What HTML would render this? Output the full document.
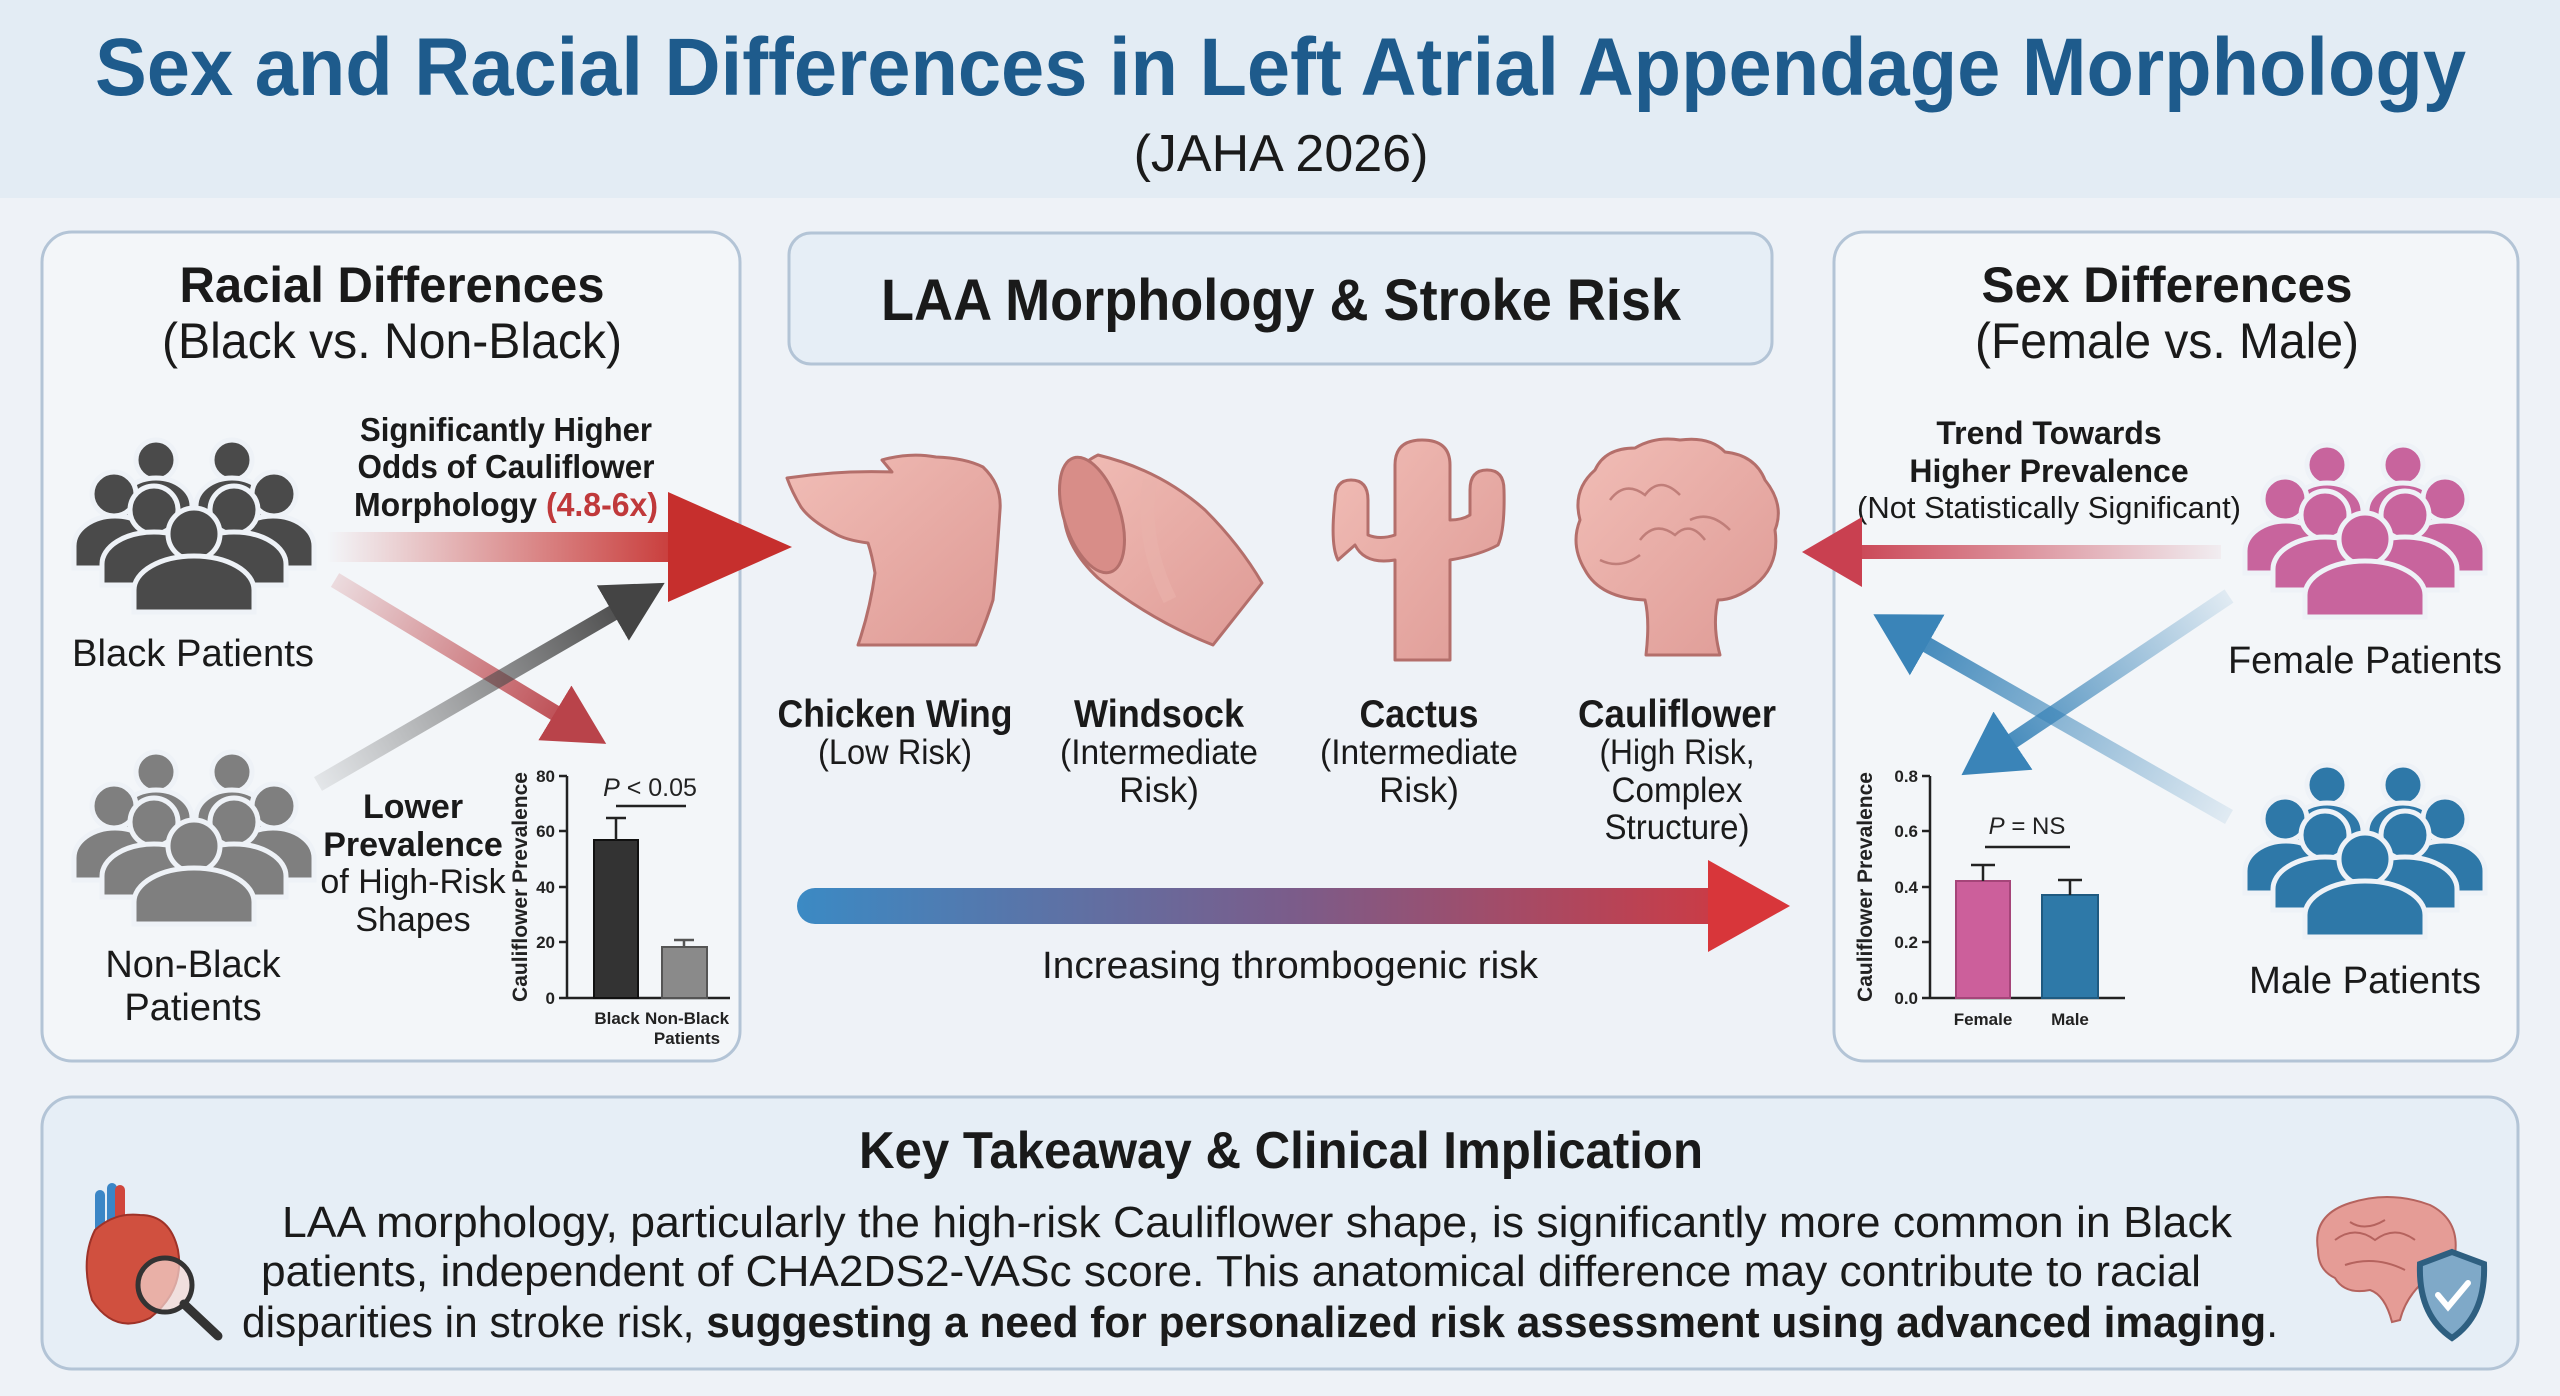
<!DOCTYPE html>
<html><head><meta charset="utf-8"><style>
html,body{margin:0;padding:0;background:#eef2f7;}
svg{display:block;font-family:"Liberation Sans",Arial,sans-serif;}
</style></head><body>
<svg width="2560" height="1396" viewBox="0 0 2560 1396" xmlns="http://www.w3.org/2000/svg">
<defs>
<linearGradient id="redMain" x1="327" y1="0" x2="700" y2="0" gradientUnits="userSpaceOnUse"><stop offset="0" stop-color="#c62f2d" stop-opacity="0"/><stop offset="1" stop-color="#c62f2d"/></linearGradient>
<linearGradient id="redDiag" x1="335" y1="580" x2="580" y2="728" gradientUnits="userSpaceOnUse"><stop offset="0" stop-color="#c04448" stop-opacity="0.15"/><stop offset="1" stop-color="#b9434a"/></linearGradient>
<linearGradient id="darkDiag" x1="318" y1="784" x2="640" y2="598" gradientUnits="userSpaceOnUse"><stop offset="0" stop-color="#555" stop-opacity="0.1"/><stop offset="1" stop-color="#444"/></linearGradient>
<linearGradient id="redR" x1="2221" y1="0" x2="1840" y2="0" gradientUnits="userSpaceOnUse"><stop offset="0" stop-color="#c94050" stop-opacity="0.05"/><stop offset="1" stop-color="#c94050"/></linearGradient>
<linearGradient id="blue1" x1="2229" y1="596" x2="1990" y2="756" gradientUnits="userSpaceOnUse"><stop offset="0" stop-color="#3a84b8" stop-opacity="0.1"/><stop offset="1" stop-color="#3a84b8"/></linearGradient>
<linearGradient id="blue2" x1="2229" y1="817" x2="1900" y2="629" gradientUnits="userSpaceOnUse"><stop offset="0" stop-color="#3a84b8" stop-opacity="0.1"/><stop offset="1" stop-color="#3a84b8"/></linearGradient>
<linearGradient id="risk" x1="797" y1="0" x2="1790" y2="0" gradientUnits="userSpaceOnUse"><stop offset="0" stop-color="#3b8ac4"/><stop offset="0.5" stop-color="#7b5c8a"/><stop offset="1" stop-color="#d8363a"/></linearGradient>
<linearGradient id="flesh" x1="0" y1="0" x2="1" y2="1"><stop offset="0" stop-color="#f1bdb6"/><stop offset="1" stop-color="#de9a95"/></linearGradient>
<marker id="mRed" markerUnits="userSpaceOnUse" markerWidth="60" markerHeight="64" refX="6" refY="32" orient="auto"><path d="M0,0 L60,32 L0,64 z" fill="#b9434a"/></marker>
<marker id="mDark" markerUnits="userSpaceOnUse" markerWidth="60" markerHeight="64" refX="6" refY="32" orient="auto"><path d="M0,0 L60,32 L0,64 z" fill="#444"/></marker>
<marker id="mRedR" markerUnits="userSpaceOnUse" markerWidth="60" markerHeight="70" refX="6" refY="35" orient="auto"><path d="M0,0 L60,35 L0,70 z" fill="#c94050"/></marker>
<marker id="mBlue" markerUnits="userSpaceOnUse" markerWidth="62" markerHeight="70" refX="6" refY="35" orient="auto"><path d="M0,0 L62,35 L0,70 z" fill="#3a84b8"/></marker>
<g id="people" stroke="#eef2f7" stroke-width="5">
  <circle cx="82" cy="20" r="20"/><circle cx="158" cy="20" r="20"/>
  <path d="M46,98 V66 A36,28 0 0 1 118,66 V98 Z"/><path d="M122,98 V66 A36,28 0 0 1 194,66 V98 Z"/>
  <circle cx="40" cy="54" r="22"/><circle cx="200" cy="54" r="22"/>
  <path d="M0,128 V106 A41,30 0 0 1 82,106 V128 Z"/><path d="M158,128 V106 A41,30 0 0 1 240,106 V128 Z"/>
  <circle cx="80" cy="70" r="24"/><circle cx="160" cy="70" r="24"/>
  <path d="M28,145 V124 A52,32 0 0 1 132,124 V145 Z"/><path d="M108,145 V124 A52,32 0 0 1 212,124 V145 Z"/>
  <circle cx="120" cy="94" r="26"/>
  <path d="M60,172 V150 A60,34 0 0 1 180,150 V172 Z"/>
</g>
</defs>

<rect width="2560" height="1396" fill="#eef2f7"/>
<rect width="2560" height="198" fill="#e3ecf4"/>
<text x="95" y="95" font-size="82" font-weight="bold" fill="#1e5b8c" textLength="2371" lengthAdjust="spacingAndGlyphs">Sex and Racial Differences in Left Atrial Appendage Morphology</text>
<text x="1281" y="171" font-size="52" fill="#1a1a1a" text-anchor="middle">(JAHA 2026)</text>

<rect x="42" y="232" width="698" height="829" rx="30" fill="#f3f6f9" stroke="#b3c4d6" stroke-width="3"/>
<rect x="1834" y="232" width="684" height="829" rx="30" fill="#f3f6f9" stroke="#b3c4d6" stroke-width="3"/>
<rect x="789" y="233" width="983" height="131" rx="22" fill="#e6eef6" stroke="#b3c4d6" stroke-width="3"/>
<rect x="42" y="1097" width="2476" height="272" rx="30" fill="#e6eef6" stroke="#b3c4d6" stroke-width="3"/>

<text x="392" y="302" font-size="50" font-weight="bold" fill="#1a1a1a" text-anchor="middle" textLength="425" lengthAdjust="spacingAndGlyphs">Racial Differences</text>
<text x="392" y="358" font-size="50" fill="#1a1a1a" text-anchor="middle" textLength="460" lengthAdjust="spacingAndGlyphs">(Black vs. Non-Black)</text>
<use href="#people" x="74" y="440" fill="#4a4a4a"/>
<text x="193" y="666" font-size="38" fill="#1a1a1a" text-anchor="middle" textLength="242" lengthAdjust="spacingAndGlyphs">Black Patients</text>
<use href="#people" x="74" y="752" fill="#7f7f7f"/>
<text x="193" y="977" font-size="38" fill="#1a1a1a" text-anchor="middle">Non-Black</text>
<text x="193" y="1020" font-size="38" fill="#1a1a1a" text-anchor="middle">Patients</text>

<rect x="327" y="532" width="355" height="30" fill="url(#redMain)"/>
<path d="M668,492 L792,547 L668,602 Z" fill="#c62f2d"/>
<text x="506" y="441" font-size="33" font-weight="bold" fill="#1a1a1a" text-anchor="middle" textLength="292" lengthAdjust="spacingAndGlyphs">Significantly Higher</text>
<text x="506" y="478" font-size="33" font-weight="bold" fill="#1a1a1a" text-anchor="middle" textLength="297" lengthAdjust="spacingAndGlyphs">Odds of Cauliflower</text>
<text x="506" y="516" font-size="33" font-weight="bold" fill="#1a1a1a" text-anchor="middle" textLength="304" lengthAdjust="spacingAndGlyphs">Morphology <tspan fill="#c0393b">(4.8-6x)</tspan></text>

<line x1="335" y1="580" x2="560" y2="716" stroke="url(#redDiag)" stroke-width="16" marker-end="url(#mRed)"/>
<line x1="318" y1="784" x2="618" y2="610" stroke="url(#darkDiag)" stroke-width="16" marker-end="url(#mDark)"/>

<text x="413" y="818" font-size="34" font-weight="bold" fill="#1a1a1a" text-anchor="middle">Lower</text>
<text x="413" y="856" font-size="34" font-weight="bold" fill="#1a1a1a" text-anchor="middle">Prevalence</text>
<text x="413" y="893" font-size="34" fill="#1a1a1a" text-anchor="middle">of High-Risk</text>
<text x="413" y="931" font-size="34" fill="#1a1a1a" text-anchor="middle">Shapes</text>

<g font-size="17" font-weight="bold" fill="#222">
<line x1="567" y1="776" x2="567" y2="998" stroke="#222" stroke-width="2.5"/>
<line x1="567" y1="998" x2="730" y2="998" stroke="#222" stroke-width="2.5"/>
<g stroke="#222" stroke-width="2.5"><line x1="559" y1="776" x2="567" y2="776"/><line x1="559" y1="831" x2="567" y2="831"/><line x1="559" y1="887" x2="567" y2="887"/><line x1="559" y1="942" x2="567" y2="942"/><line x1="559" y1="998" x2="567" y2="998"/></g>
<text x="555" y="782" text-anchor="end">80</text><text x="555" y="837" text-anchor="end">60</text><text x="555" y="893" text-anchor="end">40</text><text x="555" y="948" text-anchor="end">20</text><text x="555" y="1004" text-anchor="end">0</text>
<text transform="translate(527,887) rotate(-90)" text-anchor="middle" font-size="21">Cauliflower Prevalence</text>
<rect x="594" y="840" width="44" height="158" fill="#333" stroke="#111" stroke-width="2"/>
<path d="M616,840 V818 M606,818 H626" stroke="#222" stroke-width="2.5"/>
<rect x="662" y="947" width="45" height="51" fill="#8a8a8a" stroke="#555" stroke-width="2"/>
<path d="M684,947 V940 M674,940 H694" stroke="#555" stroke-width="2.5"/>
<line x1="616" y1="806" x2="686" y2="806" stroke="#222" stroke-width="2.5"/>
<text x="650" y="796" text-anchor="middle" font-size="25" font-weight="normal"><tspan font-style="italic">P</tspan> &lt; 0.05</text>
<text x="617" y="1024" text-anchor="middle">Black</text>
<text x="687" y="1024" text-anchor="middle">Non-Black</text>
<text x="687" y="1044" text-anchor="middle">Patients</text>
</g>

<text x="1281" y="320" font-size="58" font-weight="bold" fill="#1a1a1a" text-anchor="middle" textLength="800" lengthAdjust="spacingAndGlyphs">LAA Morphology &amp; Stroke Risk</text>

<g fill="url(#flesh)" stroke="#b46f6b" stroke-width="3" stroke-linejoin="round">
<path d="M787,478 Q840,470 892,472 L882,460 Q910,452 936,457 Q965,458 983,467 Q1002,485 1000,510 Q996,570 993,600 Q985,625 976,645 L858,645 Q870,610 875,573 Q872,555 868,543 Q845,540 834,533 Q810,520 801,507 Q792,492 787,478 Z"/>
<path d="M1098,455 Q1160,470 1205,510 Q1240,545 1262,583 L1213,645 Q1150,620 1098,578 Q1066,548 1064,515 Q1066,470 1098,455 Z"/>
<ellipse cx="1092" cy="515" rx="28" ry="60" transform="rotate(-18 1092 515)" fill="#d88d88"/>
<path d="M1150,480 Q1140,540 1170,600" fill="none" stroke="#e9b2ac" stroke-width="14" opacity="0.6"/>
<path d="M1395,660 V560 Q1365,565 1355,545 L1338,560 Q1330,545 1335,500 Q1335,480 1351,480 Q1368,480 1368,500 V535 Q1380,540 1395,535 V465 Q1395,440 1422,440 Q1450,440 1450,465 V520 Q1462,520 1470,515 V490 Q1470,470 1487,470 Q1504,470 1504,490 Q1505,530 1498,545 Q1480,555 1450,560 V660 Z"/>
<path d="M1646,655 Q1650,620 1645,600 Q1600,598 1585,570 Q1570,545 1580,520 Q1572,490 1595,470 Q1605,448 1635,448 Q1655,436 1680,440 Q1710,436 1725,452 Q1755,455 1765,480 Q1785,505 1775,530 Q1780,565 1755,585 Q1735,600 1718,600 Q1712,625 1720,655 Z"/>
</g>
<g fill="none" stroke="#c07e79" stroke-width="2.5">
<path d="M1610,500 q15,-20 35,-5 q15,-20 35,0"/><path d="M1640,540 q15,-20 35,-5 q15,-15 30,5"/><path d="M1600,560 q20,10 40,-5"/><path d="M1690,520 q20,-10 40,10"/>
</g>

<g fill="#1a1a1a" text-anchor="middle">
<text x="895" y="727" font-size="39" font-weight="bold" textLength="235" lengthAdjust="spacingAndGlyphs">Chicken Wing</text>
<text x="895" y="764" font-size="35" textLength="154" lengthAdjust="spacingAndGlyphs">(Low Risk)</text>
<text x="1159" y="727" font-size="39" font-weight="bold" textLength="170" lengthAdjust="spacingAndGlyphs">Windsock</text>
<text x="1159" y="764" font-size="35" textLength="198" lengthAdjust="spacingAndGlyphs">(Intermediate</text>
<text x="1159" y="802" font-size="35">Risk)</text>
<text x="1419" y="727" font-size="39" font-weight="bold" textLength="119" lengthAdjust="spacingAndGlyphs">Cactus</text>
<text x="1419" y="764" font-size="35" textLength="198" lengthAdjust="spacingAndGlyphs">(Intermediate</text>
<text x="1419" y="802" font-size="35">Risk)</text>
<text x="1677" y="727" font-size="39" font-weight="bold" textLength="198" lengthAdjust="spacingAndGlyphs">Cauliflower</text>
<text x="1677" y="764" font-size="35" textLength="155" lengthAdjust="spacingAndGlyphs">(High Risk,</text>
<text x="1677" y="802" font-size="35" textLength="131" lengthAdjust="spacingAndGlyphs">Complex</text>
<text x="1677" y="839" font-size="35" textLength="145" lengthAdjust="spacingAndGlyphs">Structure)</text>
</g>

<rect x="797" y="888" width="930" height="36" rx="18" fill="url(#risk)"/>
<path d="M1708,860 L1790,906 L1708,952 Z" fill="#d8363a"/>
<text x="1290" y="978" font-size="38" fill="#1a1a1a" text-anchor="middle" textLength="496" lengthAdjust="spacingAndGlyphs">Increasing thrombogenic risk</text>

<text x="2167" y="302" font-size="50" font-weight="bold" fill="#1a1a1a" text-anchor="middle" textLength="371" lengthAdjust="spacingAndGlyphs">Sex Differences</text>
<text x="2167" y="358" font-size="50" fill="#1a1a1a" text-anchor="middle" textLength="384" lengthAdjust="spacingAndGlyphs">(Female vs. Male)</text>
<use href="#people" x="2245" y="445" fill="#c8649d"/>
<text x="2365" y="673" font-size="38" fill="#1a1a1a" text-anchor="middle" textLength="274" lengthAdjust="spacingAndGlyphs">Female Patients</text>
<use href="#people" x="2245" y="765" fill="#2e78a8"/>
<text x="2365" y="993" font-size="38" fill="#1a1a1a" text-anchor="middle" textLength="232" lengthAdjust="spacingAndGlyphs">Male Patients</text>

<text x="2049" y="444" font-size="32" font-weight="bold" fill="#1a1a1a" text-anchor="middle">Trend Towards</text>
<text x="2049" y="482" font-size="32" font-weight="bold" fill="#1a1a1a" text-anchor="middle">Higher Prevalence</text>
<text x="2049" y="518" font-size="31" fill="#1a1a1a" text-anchor="middle" textLength="384" lengthAdjust="spacingAndGlyphs">(Not Statistically Significant)</text>
<line x1="2221" y1="552" x2="1856" y2="552" stroke="url(#redR)" stroke-width="14" marker-end="url(#mRedR)"/>
<line x1="2229" y1="596" x2="2008" y2="744" stroke="url(#blue1)" stroke-width="16" marker-end="url(#mBlue)"/>
<line x1="2229" y1="817" x2="1922" y2="642" stroke="url(#blue2)" stroke-width="16" marker-end="url(#mBlue)"/>

<g font-size="17" font-weight="bold" fill="#222">
<line x1="1930" y1="776" x2="1930" y2="998" stroke="#222" stroke-width="2.5"/>
<line x1="1930" y1="998" x2="2125" y2="998" stroke="#222" stroke-width="2.5"/>
<g stroke="#222" stroke-width="2.5"><line x1="1922" y1="776" x2="1930" y2="776"/><line x1="1922" y1="831" x2="1930" y2="831"/><line x1="1922" y1="887" x2="1930" y2="887"/><line x1="1922" y1="942" x2="1930" y2="942"/><line x1="1922" y1="998" x2="1930" y2="998"/></g>
<text x="1918" y="782" text-anchor="end">0.8</text><text x="1918" y="837" text-anchor="end">0.6</text><text x="1918" y="893" text-anchor="end">0.4</text><text x="1918" y="948" text-anchor="end">0.2</text><text x="1918" y="1004" text-anchor="end">0.0</text>
<text transform="translate(1872,887) rotate(-90)" text-anchor="middle" font-size="21">Cauliflower Prevalence</text>
<rect x="1956" y="881" width="54" height="117" fill="#cc5f9b" stroke="#a54579" stroke-width="2"/>
<path d="M1983,881 V865 M1971,865 H1995" stroke="#222" stroke-width="2.5"/>
<rect x="2042" y="895" width="56" height="103" fill="#2e79a8" stroke="#1f5a80" stroke-width="2"/>
<path d="M2070,895 V880 M2058,880 H2082" stroke="#222" stroke-width="2.5"/>
<line x1="1985" y1="847" x2="2070" y2="847" stroke="#222" stroke-width="2.5"/>
<text x="2027" y="834" text-anchor="middle" font-size="24" font-weight="normal"><tspan font-style="italic">P</tspan> = NS</text>
<text x="1983" y="1025" text-anchor="middle">Female</text>
<text x="2070" y="1025" text-anchor="middle">Male</text>
</g>

<text x="1281" y="1168" font-size="52" font-weight="bold" fill="#1a1a1a" text-anchor="middle" textLength="844" lengthAdjust="spacingAndGlyphs">Key Takeaway &amp; Clinical Implication</text>
<text x="282" y="1237" font-size="44" fill="#1a1a1a" textLength="1950" lengthAdjust="spacingAndGlyphs">LAA morphology, particularly the high-risk Cauliflower shape, is significantly more common in Black</text>
<text x="261" y="1286" font-size="44" fill="#1a1a1a" textLength="1940" lengthAdjust="spacingAndGlyphs">patients, independent of CHA2DS2-VASc score. This anatomical difference may contribute to racial</text>
<text x="242" y="1337" font-size="44" fill="#1a1a1a" textLength="2036" lengthAdjust="spacingAndGlyphs">disparities in stroke risk, <tspan font-weight="bold">suggesting a need for personalized risk assessment using advanced imaging</tspan>.</text>

<g>
<path d="M100,1195 v60 M112,1188 v50" stroke="#3b86c6" stroke-width="10" stroke-linecap="round"/>
<path d="M120,1190 v40" stroke="#d0463c" stroke-width="10" stroke-linecap="round"/>
<path d="M95,1230 Q80,1260 92,1300 Q115,1335 150,1318 Q185,1290 178,1250 Q170,1215 140,1215 Q115,1212 95,1230 Z" fill="#d0503f" stroke="#9e3228" stroke-width="2"/>
<circle cx="165" cy="1285" r="27" fill="#f4d8d4" fill-opacity="0.7" stroke="#333" stroke-width="5"/>
<line x1="184" y1="1304" x2="218" y2="1336" stroke="#333" stroke-width="9" stroke-linecap="round"/>
</g>
<g>
<path d="M2318,1250 Q2312,1215 2350,1203 Q2390,1190 2430,1205 Q2460,1220 2455,1255 Q2450,1280 2420,1285 Q2405,1300 2400,1320 L2392,1322 Q2385,1295 2370,1290 Q2345,1295 2335,1278 Q2318,1270 2318,1250 Z" fill="#e59c96" stroke="#b5635e" stroke-width="2"/>
<path d="M2335,1240 q20,-15 40,0 q20,-15 40,0 M2350,1222 q15,10 35,-2 M2345,1265 q30,-10 60,5" fill="none" stroke="#b5635e" stroke-width="2"/>
<path d="M2452,1252 L2484,1264 Q2486,1315 2452,1338 Q2418,1315 2420,1264 Z" fill="#7fa9c8" stroke="#2e5f80" stroke-width="6"/>
<path d="M2438,1295 l10,12 l20,-24" fill="none" stroke="#fff" stroke-width="6" stroke-linecap="round"/>
</g>
</svg>
</body></html>
